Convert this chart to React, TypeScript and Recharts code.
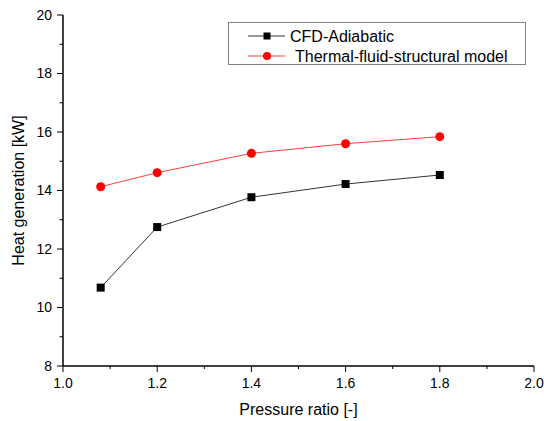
import React from 'react';
import { LineChart, Line, XAxis, YAxis, Legend } from 'recharts';

// values
const pressureRatio = [1.08, 1.2, 1.4, 1.6, 1.8];
const cfdAdiabatic = [10.68, 12.75, 13.77, 14.22, 14.53];
const thermalFluidStructural = [14.13, 14.61, 15.27, 15.6, 15.84];

const xTicks = [1.0, 1.1, 1.2, 1.3, 1.4, 1.5, 1.6, 1.7, 1.8, 1.9, 2.0];
const yTicks = [8, 9, 10, 11, 12, 13, 14, 15, 16, 17, 18, 19, 20];

const data = pressureRatio.map((x, i) => ({
  x,
  cfd: cfdAdiabatic[i],
  tfs: thermalFluidStructural[i],
}));

const FONT = '"Liberation Sans", Arial, sans-serif';
const TICK_SIZE = 6;
const TICK_MARGIN = 4;

const XTick = (props: any) => {
  const { x, y, payload } = props;
  const v = payload.value as number;
  const major = Math.round(v * 10) % 2 === 0;
  const axisY = y - TICK_SIZE - TICK_MARGIN;
  return (
    <g>
      <line x1={x} x2={x} y1={axisY} y2={axisY + (major ? 6 : 3)} stroke="#000" strokeWidth={1} />
      {major && (
        <text x={x} y={axisY + 12} dy="0.71em" textAnchor="middle" fontSize={14} fill="#000" fontFamily={FONT}>
          {v.toFixed(1)}
        </text>
      )}
    </g>
  );
};

const YTick = (props: any) => {
  const { x, y, payload } = props;
  const v = payload.value as number;
  const major = Math.round(v) % 2 === 0;
  const axisX = x + TICK_SIZE + TICK_MARGIN;
  return (
    <g>
      <line x1={axisX - (major ? 6 : 3.5)} x2={axisX} y1={y} y2={y} stroke="#000" strokeWidth={1} />
      {major && (
        <text x={axisX - 11} y={y} dy="0.35em" textAnchor="end" fontSize={14} fill="#000" fontFamily={FONT}>
          {v}
        </text>
      )}
    </g>
  );
};

const SquareDot = (props: any) => {
  const { cx, cy } = props;
  if (cx == null || cy == null) return null;
  return <rect x={cx - 4} y={cy - 4} width={8} height={8} fill="#000" />;
};

const CircleDot = (props: any) => {
  const { cx, cy } = props;
  if (cx == null || cy == null) return null;
  return <circle cx={cx} cy={cy} r={4.5} fill="#ff0000" />;
};

const legendItems = [
  { name: 'CFD-Adiabatic', line: '#333', shape: 'square', textX: 61 },
  { name: 'Thermal-fluid-structural model', line: '#ff4040', shape: 'circle', textX: 66 },
];

const LegendBox = () => (
  <div style={{ width: 298, height: 43, border: '1px solid #808080', boxSizing: 'border-box', background: '#fff' }}>
    <svg width={296} height={41}>
      {legendItems.map((item, i) => {
        const cy = 13 + i * 20;
        return (
          <g key={item.name}>
            <line x1={19} x2={56} y1={cy} y2={cy} stroke={item.line} strokeWidth={1} />
            {item.shape === 'square' ? (
              <rect x={34.5} y={cy - 3.5} width={7} height={7} fill="#000" />
            ) : (
              <circle cx={38} cy={cy} r={4} fill="#ff0000" />
            )}
            <text x={item.textX} y={cy} dy="0.36em" fontSize={16} fill="#000" fontFamily={FONT}>
              {item.name}
            </text>
          </g>
        );
      })}
    </svg>
  </div>
);

export default function App() {
  return (
    <div style={{ position: 'absolute', left: 0, top: 0, width: 544, height: 421, background: '#fff' }}>
      <LineChart width={544} height={421} data={data} margin={{ top: 15, right: 10, left: 0, bottom: 0 }}>
        <XAxis
          dataKey="x"
          type="number"
          domain={[1, 2]}
          ticks={xTicks}
          interval={0}
          height={55}
          tickSize={TICK_SIZE}
          tickMargin={TICK_MARGIN}
          tickLine={false}
          axisLine={{ stroke: '#000', strokeWidth: 1.5 }}
          tick={(p: any) => <XTick {...p} />}
          label={{
            content: (lp: any) => {
              const vb = lp.viewBox;
              return (
                <text x={vb.x + vb.width / 2} y={vb.y + 49} textAnchor="middle" fontSize={16} fill="#000" fontFamily={FONT}>
                  Pressure ratio [-]
                </text>
              );
            },
          }}
        />
        <YAxis
          type="number"
          domain={[8, 20]}
          ticks={yTicks}
          interval={0}
          width={63}
          tickSize={TICK_SIZE}
          tickMargin={TICK_MARGIN}
          tickLine={false}
          axisLine={{ stroke: '#000', strokeWidth: 1.5 }}
          tick={(p: any) => <YTick {...p} />}
          label={{
            content: (lp: any) => {
              const vb = lp.viewBox;
              const lx = vb.x + 24;
              const ly = vb.y + vb.height / 2;
              return (
                <text x={lx} y={ly} transform={`rotate(-90, ${lx}, ${ly})`} textAnchor="middle" fontSize={16} fill="#000" fontFamily={FONT}>
                  Heat generation [kW]
                </text>
              );
            },
          }}
        />
        <Legend
          layout="vertical"
          align="center"
          verticalAlign="middle"
          content={() => <LegendBox />}
          wrapperStyle={{ left: 228, top: 22, width: 298, height: 43 }}
        />
        <Line
          dataKey="cfd"
          name="CFD-Adiabatic"
          stroke="#333"
          strokeWidth={1}
          dot={(p: any) => <SquareDot key={`s${p.index}`} {...p} />}
          activeDot={false}
          isAnimationActive={false}
        />
        <Line
          dataKey="tfs"
          name="Thermal-fluid-structural model"
          stroke="#ff4040"
          strokeWidth={1}
          dot={(p: any) => <CircleDot key={`c${p.index}`} {...p} />}
          activeDot={false}
          isAnimationActive={false}
        />
      </LineChart>
    </div>
  );
}
